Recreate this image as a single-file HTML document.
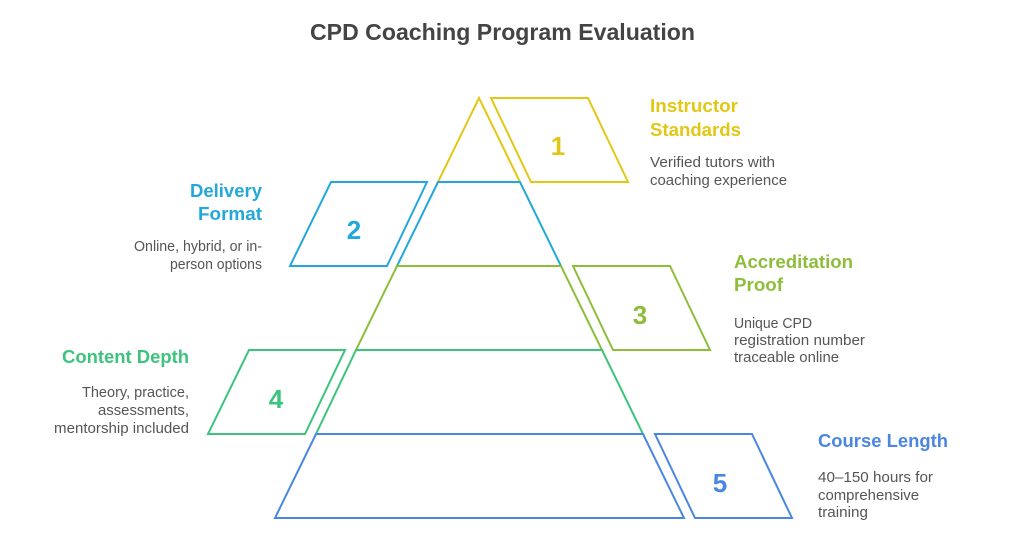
<!DOCTYPE html>
<html>
<head>
<meta charset="utf-8">
<style>
  html, body { margin: 0; padding: 0; background: #ffffff; }
  body { width: 1009px; height: 552px; overflow: hidden; }
  svg { display: block; }
  text { font-family: "Liberation Sans", Arial, sans-serif; }
  .t { font-weight: bold; font-size: 18px; }
  .d { font-size: 15px; fill: #555555; }
  .n { font-weight: bold; font-size: 26px; text-anchor: middle; }
</style>
</head>
<body>
<svg width="1009" height="552" viewBox="0 0 1009 552" xmlns="http://www.w3.org/2000/svg">
  <rect width="1009" height="552" fill="#ffffff"/>

  <!-- Title -->
  <text x="310" y="40" font-size="23" font-weight="bold" fill="#444444" textLength="385" lengthAdjust="spacingAndGlyphs">CPD Coaching Program Evaluation</text>

  <g fill="none" stroke-width="2" stroke-linejoin="miter">
    <!-- Pyramid levels -->
    <polygon points="479,98 520,182 438,182" stroke="#E2C814"/>
    <polygon points="438,182 520,182 561,266 397,266" stroke="#22A8DA"/>
    <polygon points="397,266 561,266 602,350 356,350" stroke="#8DBE3A"/>
    <polygon points="356,350 602,350 643,434 316,434" stroke="#3CC47C"/>
    <polygon points="316,434 643,434 684,518 275,518" stroke="#4A86E2"/>

    <!-- Parallelograms -->
    <polygon points="491,98 588,98 628,182 531,182" stroke="#E2C814"/>
    <polygon points="331,182 427,182 387,266 290,266" stroke="#22A8DA"/>
    <polygon points="573,266 670,266 710,350 613,350" stroke="#8DBE3A"/>
    <polygon points="249,350 345,350 305,434 208,434" stroke="#3CC47C"/>
    <polygon points="655,434 752,434 792,518 695,518" stroke="#4A86E2"/>
  </g>

  <!-- Numbers -->
  <text class="n" x="558" y="155" fill="#E2C814">1</text>
  <text class="n" x="354" y="239" fill="#22A8DA">2</text>
  <text class="n" x="640" y="324" fill="#8DBE3A">3</text>
  <text class="n" x="276" y="408" fill="#3CC47C">4</text>
  <text class="n" x="720" y="492" fill="#4A86E2">5</text>

  <!-- 1 Instructor Standards -->
  <text class="t" x="650" y="112" fill="#E2C814" textLength="88" lengthAdjust="spacingAndGlyphs">Instructor</text>
  <text class="t" x="650" y="136" fill="#E2C814" textLength="91" lengthAdjust="spacingAndGlyphs">Standards</text>
  <text class="d" x="650" y="167" textLength="125" lengthAdjust="spacingAndGlyphs">Verified tutors with</text>
  <text class="d" x="650" y="185" textLength="137" lengthAdjust="spacingAndGlyphs">coaching experience</text>

  <!-- 2 Delivery Format -->
  <text class="t" x="190" y="197" fill="#22A8DA" textLength="72" lengthAdjust="spacingAndGlyphs">Delivery</text>
  <text class="t" x="198" y="220" fill="#22A8DA" textLength="64" lengthAdjust="spacingAndGlyphs">Format</text>
  <text class="d" x="134" y="251" textLength="128" lengthAdjust="spacingAndGlyphs">Online, hybrid, or in-</text>
  <text class="d" x="170" y="269" textLength="92" lengthAdjust="spacingAndGlyphs">person options</text>

  <!-- 3 Accreditation Proof -->
  <text class="t" x="734" y="268" fill="#8DBE3A" textLength="119" lengthAdjust="spacingAndGlyphs">Accreditation</text>
  <text class="t" x="734" y="291" fill="#8DBE3A" textLength="49" lengthAdjust="spacingAndGlyphs">Proof</text>
  <text class="d" x="734" y="328" textLength="78" lengthAdjust="spacingAndGlyphs">Unique CPD</text>
  <text class="d" x="734" y="345" textLength="131" lengthAdjust="spacingAndGlyphs">registration number</text>
  <text class="d" x="734" y="362" textLength="105" lengthAdjust="spacingAndGlyphs">traceable online</text>

  <!-- 4 Content Depth -->
  <text class="t" x="62" y="363" fill="#3CC47C" textLength="127" lengthAdjust="spacingAndGlyphs">Content Depth</text>
  <text class="d" x="82" y="397" textLength="107" lengthAdjust="spacingAndGlyphs">Theory, practice,</text>
  <text class="d" x="98" y="415" textLength="91" lengthAdjust="spacingAndGlyphs">assessments,</text>
  <text class="d" x="54" y="433" textLength="135" lengthAdjust="spacingAndGlyphs">mentorship included</text>

  <!-- 5 Course Length -->
  <text class="t" x="818" y="447" fill="#4A86E2" textLength="130" lengthAdjust="spacingAndGlyphs">Course Length</text>
  <text class="d" x="818" y="482" textLength="115" lengthAdjust="spacingAndGlyphs">40–150 hours for</text>
  <text class="d" x="818" y="500" textLength="101" lengthAdjust="spacingAndGlyphs">comprehensive</text>
  <text class="d" x="818" y="517" textLength="50" lengthAdjust="spacingAndGlyphs">training</text>
</svg>
</body>
</html>
